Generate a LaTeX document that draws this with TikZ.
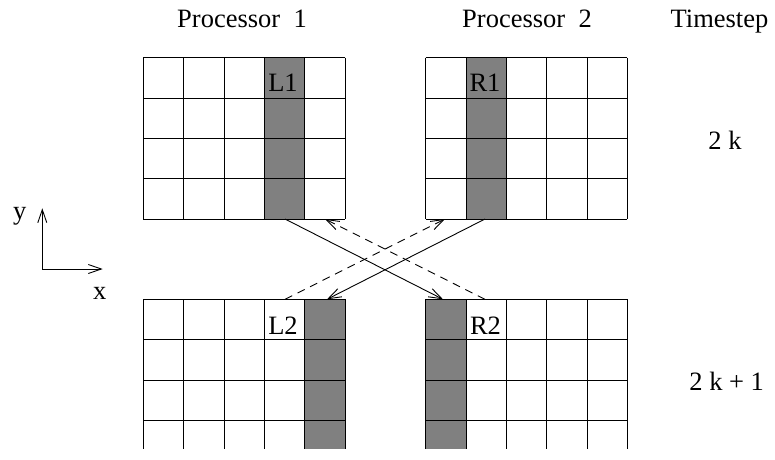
\documentclass[tikz,border=0pt]{standalone}
\usepackage{fontspec}
\setmainfont{Liberation Serif}
\usetikzlibrary{arrows.meta}
\begin{document}
\begin{tikzpicture}[x=1pt,y=-1pt,
  gridline/.style={line width=1pt, draw=black},
  colshade/.style={fill=gray},
  lbl/.style={font=\fontsize{26.5}{30}\selectfont, inner sep=0pt, anchor=base},
  conn/.style={line width=0.9pt, -{Straight Barb[length=13pt,width=9pt,line width=0.9pt]}},
  dashconn/.style={conn, dash pattern=on 8pt off 6pt}
  ]
\useasboundingbox (0,0) rectangle (775,459);
\def\c{40.35}
% ---------- top-left grid (Processor 1, timestep 2k)
\fill[colshade] ({143.3+3*\c},57.7) rectangle ++(\c,{4*\c});
\foreach \i in {0,...,5} \draw[gridline] ({143.3+\i*\c},57.7) -- ++(0,{4*\c});
\foreach \j in {0,...,4} \draw[gridline] (143.3,{57.7+\j*\c}) -- ++({5*\c},0);
% ---------- top-right grid (Processor 2, timestep 2k)
\fill[colshade] ({425.7+1*\c},57.7) rectangle ++(\c,{4*\c});
\foreach \i in {0,...,5} \draw[gridline] ({425.7+\i*\c},57.7) -- ++(0,{4*\c});
\foreach \j in {0,...,4} \draw[gridline] (425.7,{57.7+\j*\c}) -- ++({5*\c},0);
% ---------- bottom-left grid (Processor 1, timestep 2k+1)
\fill[colshade] ({143.3+4*\c},299.3) rectangle ++(\c,150);
\foreach \i in {0,...,5} \draw[gridline] ({143.3+\i*\c},299.3) -- ++(0,150);
\foreach \j in {0,...,3} \draw[gridline] (143.3,{299.3+\j*\c}) -- ++({5*\c},0);
% ---------- bottom-right grid (Processor 2, timestep 2k+1)
\fill[colshade] (425.7,299.3) rectangle ++(\c,150);
\foreach \i in {0,...,5} \draw[gridline] ({425.7+\i*\c},299.3) -- ++(0,150);
\foreach \j in {0,...,3} \draw[gridline] (425.7,{299.3+\j*\c}) -- ++({5*\c},0);
% ---------- labels
\node[lbl] (p1) at (242,27) {Processor\ \ 1};
\node[lbl] (p2) at (527,27) {Processor\ \ 2};
\node[lbl] (ts) at (719.5,27.3) {Timestep};
\node[lbl] (t0) at (725,149) {2 k};
\node[lbl] (t1) at (726.7,390.7) {2 k + 1};
\node[lbl] (l1) at (283,91.7) {L1};
\node[lbl] (r1) at (485,91.7) {R1};
\node[lbl] (l2) at (283,334) {L2};
\node[lbl] (r2) at (485.5,334) {R2};
\node[lbl] (ylab) at (19.7,219) {y};
\node[lbl] (xlab) at (99.7,299) {x};
% ---------- axes
\coordinate (orig) at (42.3,269);
\coordinate (ytip) at (42.3,208.3);
\coordinate (xtip) at (102.7,269);
\draw[conn] (orig) -- (ytip);
\draw[conn] (orig) -- (xtip);
% ---------- exchange arrows
\coordinate (L1out) at (285,219);
\coordinate (R2in) at (443,299.3);
\coordinate (R1out) at (485,219);
\coordinate (L2in) at (327,299.3);
\coordinate (L2d) at (285,299.3);
\coordinate (R1d) at (445,219);
\coordinate (R2d) at (485,299.3);
\coordinate (L1d) at (325,219);
\draw[conn] (L1out) -- (R2in);
\draw[conn] (R1out) -- (L2in);
\draw[dashconn] (L2d) -- (R1d);
\draw[dashconn] (R2d) -- (L1d);
\end{tikzpicture}
\end{document}
